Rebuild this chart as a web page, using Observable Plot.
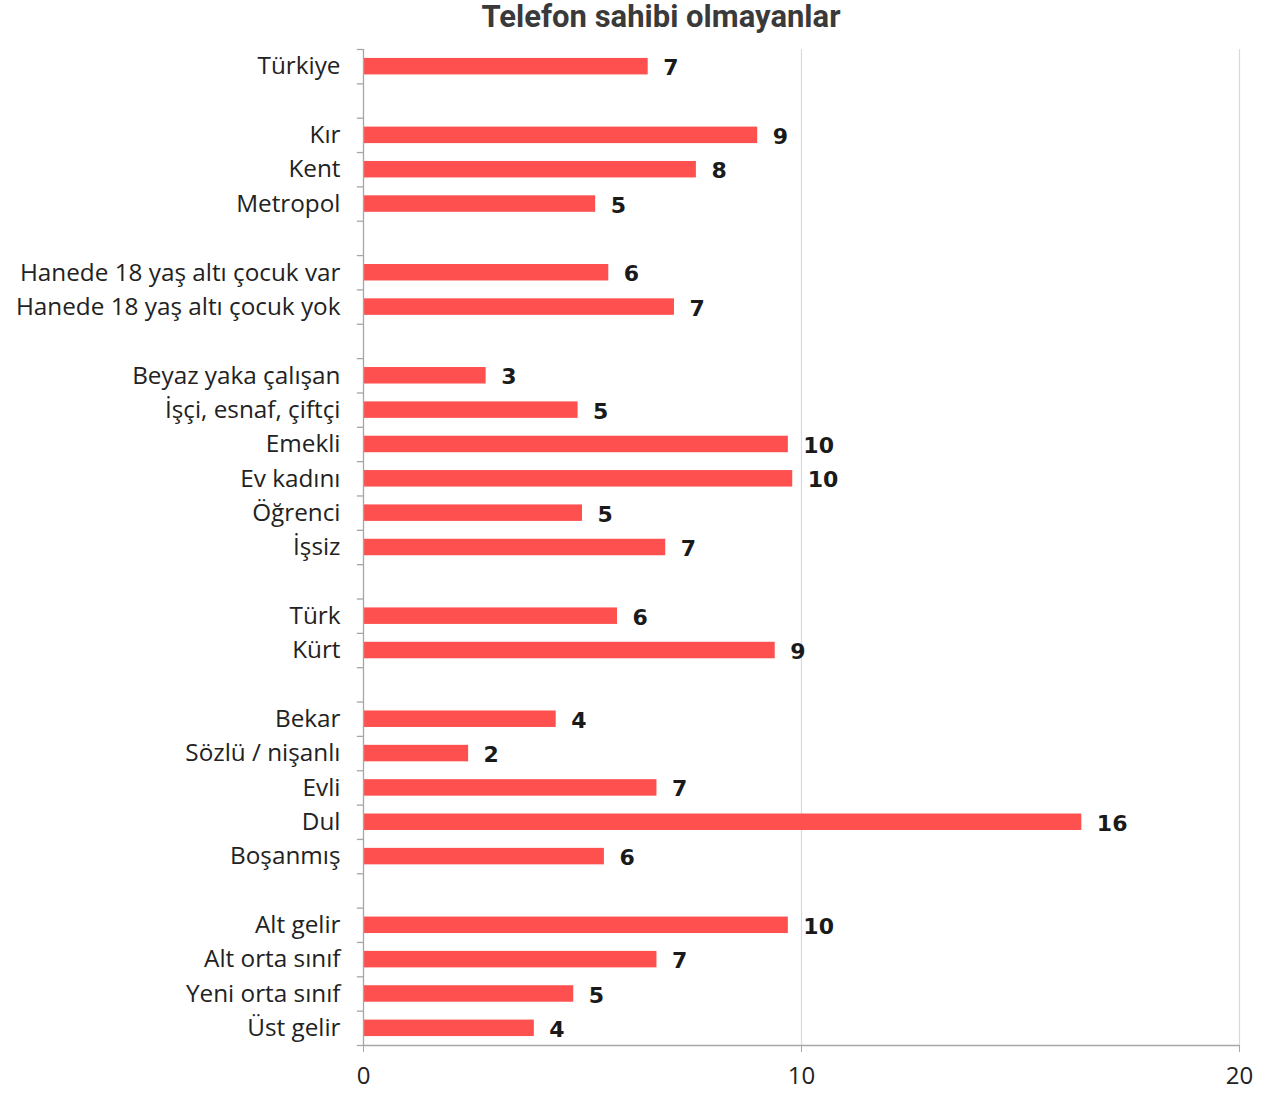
<!DOCTYPE html>
<html>
<head>
<meta charset="utf-8">
<script src="https://cdn.jsdelivr.net/npm/d3@7"></script>
<script src="https://cdn.jsdelivr.net/npm/@observablehq/plot@0.6"></script>
<style>
  body { margin: 0; background: #fff; }
  #title { height: 36px; width: 1272px; font-family: "Liberation Sans Narrow", "Roboto", sans-serif; font-weight: bold; font-size: 31px; color: #3a3a3a; position: relative; }
  #title span { position: absolute; left: 661px; top: -2px; transform: translateX(-50%); white-space: nowrap; }
</style>
</head>
<body>
<div id="title"><span>Telefon sahibi olmayanlar</span></div>
<div id="chart"></div>
<script>
// Categories (empty strings are the gaps between groups)
const categories = [
  "Türkiye", "",
  "Kır", "Kent", "Metropol", "",
  "Hanede 18 yaş altı çocuk var", "Hanede 18 yaş altı çocuk yok", "",
  "Beyaz yaka çalışan", "İşçi, esnaf, çiftçi", "Emekli", "Ev kadını", "Öğrenci", "İşsiz", "",
  "Türk", "Kürt", "",
  "Bekar", "Sözlü / nişanlı", "Evli", "Dul", "Boşanmış", "",
  "Alt gelir", "Alt orta sınıf", "Yeni orta sınıf", "Üst gelir"
];
// Bar values (null for gaps)
const values = [
  6.5, null,
  9.0, 7.6, 5.3, null,
  5.6, 7.1, null,
  2.8, 4.9, 9.7, 9.8, 5.0, 6.9, null,
  5.8, 9.4, null,
  4.4, 2.4, 6.7, 16.4, 5.5, null,
  9.7, 6.7, 4.8, 3.9
];
// Printed value labels
const valueLabels = [
  "7", "",
  "9", "8", "5", "",
  "6", "7", "",
  "3", "5", "10", "10", "5", "7", "",
  "6", "9", "",
  "4", "2", "7", "16", "6", "",
  "10", "7", "5", "4"
];
const xTicks = [0, 10, 20];

const n = categories.length;
const rows = categories.map((c, i) => ({i, c, v: values[i], lab: valueLabels[i]}));
const bars = rows.filter(d => d.v != null);
const boundaries = d3.range(0, n + 1);

const plot = Plot.plot({
  width: 1272,
  height: 1057,
  marginLeft: 363,
  marginRight: 33,
  marginTop: 13,
  marginBottom: 48,
  style: { fontFamily: "Open Sans, sans-serif", background: "#fff" },
  x: { domain: [0, 20], label: null },
  y: { domain: [n, 0], axis: null },
  marks: [
    Plot.ruleX([10, 20], { stroke: "#d9d9d9", strokeWidth: 1.2 }),
    Plot.rect(bars, {
      x1: () => 0, x2: "v",
      y1: d => d.i + 0.26, y2: d => d.i + 0.74,
      fill: "#ff5050"
    }),
    // y axis line and boundary ticks
    Plot.ruleX([0], { stroke: "#a6a6a6", strokeWidth: 1.3 }),
    Plot.ruleY(boundaries, { y: d => d, x1: () => -0.14, x2: () => 0, stroke: "#a6a6a6", strokeWidth: 1.3 }),
    // x axis
    Plot.ruleY([n], { stroke: "#a6a6a6", strokeWidth: 1.3 }),
    Plot.axisX(xTicks, { tickSize: 7, tickPadding: 14, stroke: "#a6a6a6", fontSize: 24, fill: "#222", tickFormat: d => String(d), anchor: "bottom", label: null }),
    // category labels
    Plot.text(rows.filter(d => d.c), {
      x: () => 0, y: d => d.i + 0.5, text: "c",
      textAnchor: "end", dx: -23, fontSize: 24.3, fill: "#222"
    }),
    // value labels
    Plot.text(bars, {
      x: "v", y: d => d.i + 0.5, dy: 1.5, text: "lab",
      textAnchor: "start", dx: 15, fontSize: 22, fontWeight: "bold",
      fontFamily: "DejaVu Sans", fill: "#1a1a1a"
    })
  ]
});
document.getElementById("chart").appendChild(plot);
</script>
</body>
</html>
